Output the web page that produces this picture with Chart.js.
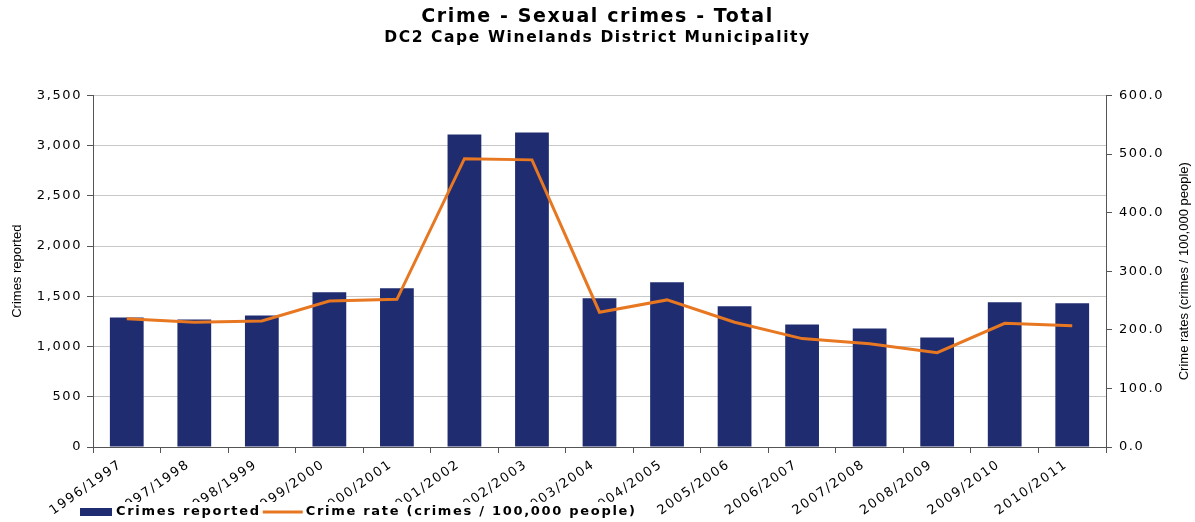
<!DOCTYPE html>
<html>
<head>
<meta charset="utf-8">
<script src="https://cdn.jsdelivr.net/npm/chart.js@4.4.0/dist/chart.umd.min.js"></script>
<style>
  html, body { margin: 0; padding: 0; background: #fff; }
  #wrap { width: 1195px; height: 522px; position: relative; }
</style>
</head>
<body>
<div id="wrap"><canvas id="crimeChart"></canvas></div>
<script>
// du lieu doc tu hinh
var years = ['1996/1997', '1997/1998', '1998/1999', '1999/2000', '2000/2001', '2001/2002', '2002/2003',
  '2003/2004', '2004/2005', '2005/2006', '2006/2007', '2007/2008', '2008/2009', '2009/2010', '2010/2011'];
var crimesReported = [1290, 1270, 1310, 1540, 1580, 3110, 3130, 1480, 1640, 1400, 1220, 1180, 1090, 1440, 1430];
var crimeRate = [219, 213, 215, 249, 252, 492, 490, 230, 251, 213, 185, 176, 161, 211, 207];

var leftAxisRange = [0, 3500, 500];   // min, max, step
var rightAxisRange = [0, 600, 100];

var titleText = 'Crime - Sexual crimes - Total';
var subtitleText = 'DC2 Cape Winelands District Municipality';
var leftAxisTitle = 'Crimes reported';
var rightAxisTitle = 'Crime rates (crimes / 100,000 people)';

var NAVY = '#1f2c6f';
var ORANGE = '#e87722';
var AXIS = '#555555';

function fmtInt(v) {
  return (Math.round(v) + '').replace(/\B(?=(\d{3})+(?!\d))/g, ',');
}

// gian chu cho giong ban goc (Verdana rong)
var spacingPlugin = {
  id: 'spacing',
  beforeUpdate: function (chart) { chart.ctx.letterSpacing = '1.6px'; },
  beforeDraw: function (chart) { chart.ctx.letterSpacing = '1.6px'; }
};

// tieu de truc + chu thich ve tay
var extrasPlugin = {
  id: 'extras',
  afterDraw: function (chart) {
    var ctx = chart.ctx;
    var area = chart.chartArea;
    var midY = (area.top + area.bottom) / 2;
    ctx.save();
    ctx.letterSpacing = '0px';
    ctx.fillStyle = '#000';
    ctx.font = '13px "Liberation Sans Narrow", "Liberation Sans", sans-serif';
    ctx.textAlign = 'center';
    ctx.textBaseline = 'middle';

    ctx.save();
    ctx.translate(17, midY);
    ctx.rotate(-Math.PI / 2);
    ctx.fillText(leftAxisTitle, 0, 0);
    ctx.restore();

    ctx.save();
    ctx.translate(1184, midY);
    ctx.rotate(-Math.PI / 2);
    ctx.fillText(rightAxisTitle, 0, 0);
    ctx.restore();

    // legend: cot truoc, duong sau
    var bars = chart.data.datasets.filter(function (d) { return d.type === 'bar'; })[0];
    var line = chart.data.datasets.filter(function (d) { return d.type === 'line'; })[0];
    ctx.fillStyle = '#fff';
    ctx.fillRect(76, 502, 570, 20);
    ctx.letterSpacing = '1.7px';
    ctx.font = 'bold 13px "DejaVu Sans", Verdana, sans-serif';
    ctx.textAlign = 'left';
    var y = 512;
    ctx.fillStyle = bars.backgroundColor;
    ctx.fillRect(80, 508, 32, 8);
    ctx.fillStyle = '#000';
    ctx.fillText(bars.label, 116, y);
    var x2 = 116 + ctx.measureText(bars.label).width + 2;
    ctx.strokeStyle = line.borderColor;
    ctx.lineWidth = 3;
    ctx.beginPath();
    ctx.moveTo(x2, y);
    ctx.lineTo(x2 + 40, y);
    ctx.stroke();
    ctx.fillText(line.label, x2 + 43, y);
    ctx.restore();
  }
};

var tickFont = { family: '"DejaVu Sans", Verdana, sans-serif', size: 13 };

new Chart(document.getElementById('crimeChart'), {
  data: {
    labels: years,
    datasets: [
      {
        type: 'line',
        label: 'Crime rate (crimes / 100,000 people)',
        data: crimeRate,
        yAxisID: 'y1',
        borderColor: ORANGE,
        backgroundColor: ORANGE,
        borderWidth: 3,
        pointRadius: 0,
        tension: 0,
        order: 0
      },
      {
        type: 'bar',
        label: 'Crimes reported',
        data: crimesReported,
        yAxisID: 'y',
        backgroundColor: NAVY,
        barPercentage: 0.5,
        categoryPercentage: 1,
        order: 1
      }
    ]
  },
  options: {
    responsive: true,
    maintainAspectRatio: false,
    animation: false,
    layout: { padding: 0 },
    plugins: {
      legend: { display: false },
      tooltip: { enabled: false },
      title: {
        display: true,
        text: titleText,
        color: '#000',
        font: { family: '"DejaVu Sans", Verdana, sans-serif', size: 19, weight: 'bold' },
        padding: { top: 6, bottom: 0 }
      },
      subtitle: {
        display: true,
        text: subtitleText,
        color: '#000',
        font: { family: '"DejaVu Sans", Verdana, sans-serif', size: 15.5, weight: 'bold' },
        padding: { top: 0, bottom: 48 }
      }
    },
    scales: {
      x: {
        type: 'category',
        offset: true,
        grid: { offset: true, drawOnChartArea: false, tickLength: 6, tickColor: AXIS },
        border: { color: AXIS, width: 1 },
        ticks: {
          color: '#000',
          font: tickFont,
          minRotation: 35,
          maxRotation: 35,
          padding: 4,
          labelOffset: -6,
          autoSkip: false
        },
        afterFit: function (s) { s.height = 75; }
      },
      y: {
        position: 'left',
        min: leftAxisRange[0],
        max: leftAxisRange[1],
        grid: { color: '#c8c8c8', tickColor: AXIS, tickLength: 6 },
        border: { color: AXIS, width: 1 },
        ticks: {
          stepSize: leftAxisRange[2],
          color: '#000',
          font: tickFont,
          padding: 5,
          callback: function (v) { return fmtInt(v); }
        },
        afterFit: function (s) { s.width = 93; }
      },
      y1: {
        position: 'right',
        min: rightAxisRange[0],
        max: rightAxisRange[1],
        grid: { drawOnChartArea: false, tickColor: AXIS, tickLength: 6 },
        border: { color: AXIS, width: 1 },
        ticks: {
          stepSize: rightAxisRange[2],
          color: '#000',
          font: tickFont,
          padding: 7,
          callback: function (v) { return Number(v).toFixed(1); }
        },
        afterFit: function (s) { s.width = 89; }
      }
    }
  },
  plugins: [spacingPlugin, extrasPlugin]
});
</script>
</body>
</html>
